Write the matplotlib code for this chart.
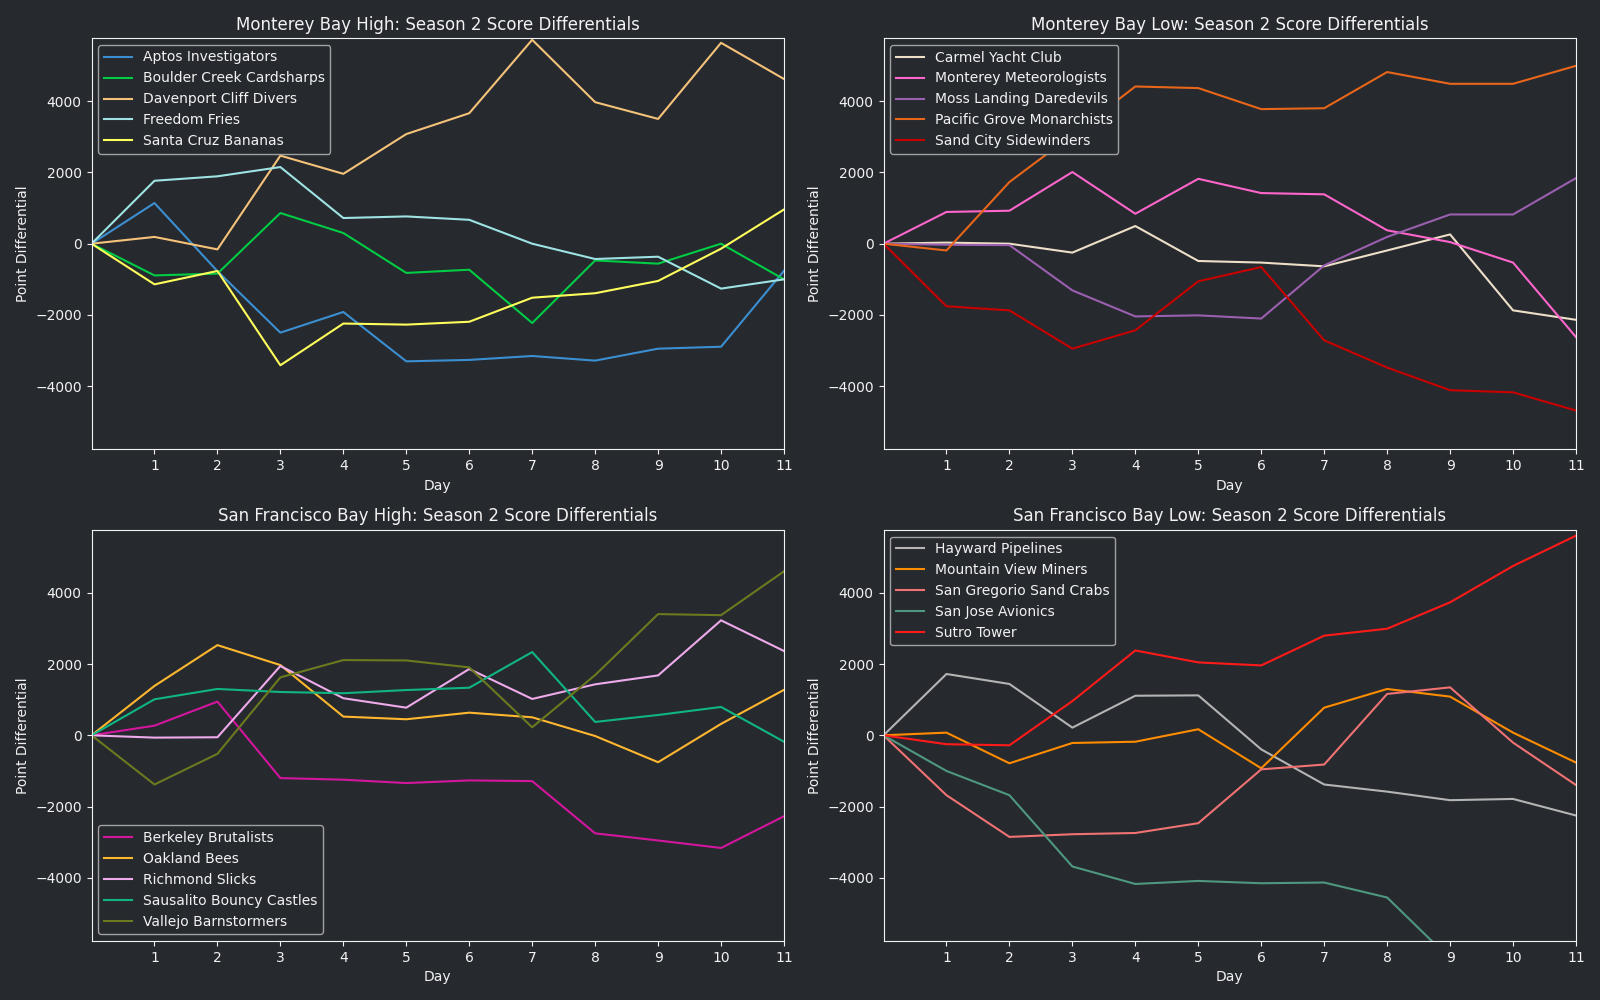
import matplotlib
matplotlib.use("Agg")
import matplotlib.pyplot as plt

BG = "#26292e"
FG = "#f2f2f2"

days = list(range(12))

# Monterey Bay High
mbh_teams = ["Aptos Investigators", "Boulder Creek Cardsharps", "Davenport Cliff Divers",
             "Freedom Fries", "Santa Cruz Bananas"]
mbh_colors = ["#3b8fd1", "#00cc44", "#f5c27a", "#9ee3e3", "#ffff5c"]
mbh_values = [
    [0, 1140, -770, -2495, -1915, -3300, -3260, -3150, -3280, -2945, -2890, -760],
    [0, -890, -840, 860, 300, -820, -730, -2225, -470, -560, 0, -1000],
    [0, 190, -160, 2470, 1960, 3075, 3660, 5720, 3970, 3500, 5635, 4620],
    [0, 1765, 1890, 2150, 720, 765, 670, 0, -430, -365, -1260, -1000],
    [0, -1140, -765, -3410, -2240, -2270, -2190, -1515, -1390, -1045, -140, 960],
]

# Monterey Bay Low
mbl_teams = ["Carmel Yacht Club", "Monterey Meteorologists", "Moss Landing Daredevils",
             "Pacific Grove Monarchists", "Sand City Sidewinders"]
mbl_colors = ["#eedfc8", "#ff66cc", "#9b5fb0", "#e8661a", "#c80000"]
mbl_values = [
    [0, 30, 0, -250, 495, -485, -530, -635, -190, 260, -1870, -2135],
    [0, 890, 925, 2010, 840, 1820, 1420, 1385, 375, 45, -530, -2620],
    [0, -30, -40, -1310, -2040, -2010, -2100, -610, 190, 820, 820, 1840],
    [0, -190, 1730, 3050, 4410, 4365, 3775, 3800, 4815, 4485, 4485, 4990],
    [0, -1755, -1870, -2945, -2430, -1055, -655, -2710, -3475, -4110, -4170, -4680],
]

# San Francisco Bay High
sfh_teams = ["Berkeley Brutalists", "Oakland Bees", "Richmond Slicks",
             "Sausalito Bouncy Castles", "Vallejo Barnstormers"]
sfh_colors = ["#d4159e", "#ffb730", "#eeaaea", "#10b583", "#6b7a1f"]
sfh_values = [
    [0, 270, 945, -1200, -1245, -1340, -1265, -1285, -2750, -2950, -3160, -2270],
    [0, 1385, 2530, 1970, 525, 450, 635, 505, -20, -755, 320, 1275],
    [0, -65, -55, 1945, 1040, 775, 1860, 1020, 1430, 1680, 3225, 2365],
    [0, 1010, 1300, 1215, 1180, 1270, 1335, 2335, 375, 570, 795, -180],
    [0, -1380, -520, 1625, 2110, 2100, 1905, 225, 1690, 3400, 3370, 4600],
]

# San Francisco Bay Low
sfl_teams = ["Hayward Pipelines", "Mountain View Miners", "San Gregorio Sand Crabs",
             "San Jose Avionics", "Sutro Tower"]
sfl_colors = ["#b4b4b4", "#ff8c00", "#f07272", "#4f9880", "#ff1a1a"]
sfl_values = [
    [0, 1720, 1440, 215, 1110, 1120, -395, -1380, -1580, -1820, -1785, -2250],
    [0, 75, -785, -215, -180, 170, -925, 775, 1300, 1085, 75, -765],
    [0, -1680, -2850, -2775, -2740, -2465, -955, -820, 1160, 1345, -205, -1395],
    [0, -1000, -1680, -3680, -4170, -4085, -4150, -4130, -4550, -6270, -6600, -7000],
    [0, -250, -280, 960, 2380, 2045, 1960, 2795, 2990, 3730, 4750, 5600],
]

panels = [
    ("Monterey Bay High: Season 2 Score Differentials", mbh_teams, mbh_colors, mbh_values, "upper left"),
    ("Monterey Bay Low: Season 2 Score Differentials", mbl_teams, mbl_colors, mbl_values, "upper left"),
    ("San Francisco Bay High: Season 2 Score Differentials", sfh_teams, sfh_colors, sfh_values, "lower left"),
    ("San Francisco Bay Low: Season 2 Score Differentials", sfl_teams, sfl_colors, sfl_values, "upper left"),
]

fig, axes = plt.subplots(2, 2, figsize=(16, 10), dpi=100)
fig.patch.set_facecolor(BG)
fig.subplots_adjust(left=0.0572, right=0.985, top=0.962, bottom=0.059, wspace=0.1437, hspace=0.195)

for ax, (title, teams, colors, values, loc) in zip(axes.flat, panels):
    ax.set_facecolor(BG)
    for team, color, vals in zip(teams, colors, values):
        ax.plot(days, vals, color=color, linewidth=1.5, label=team)
    ax.set_xlim(0, 11)
    ax.set_ylim(-5770, 5770)
    ax.set_xticks(range(1, 12))
    ax.set_title(title, color=FG, fontsize=12)
    ax.set_xlabel("Day", color=FG)
    ax.set_ylabel("Point Differential", color=FG)
    ax.tick_params(colors=FG, labelsize=10)
    for spine in ax.spines.values():
        spine.set_color(FG)
    leg = ax.legend(loc=loc, facecolor=BG, edgecolor="#a0a0a0", framealpha=1.0, fontsize=10)
    for txt in leg.get_texts():
        txt.set_color(FG)

fig.savefig("out.png", dpi=100, facecolor=BG)
